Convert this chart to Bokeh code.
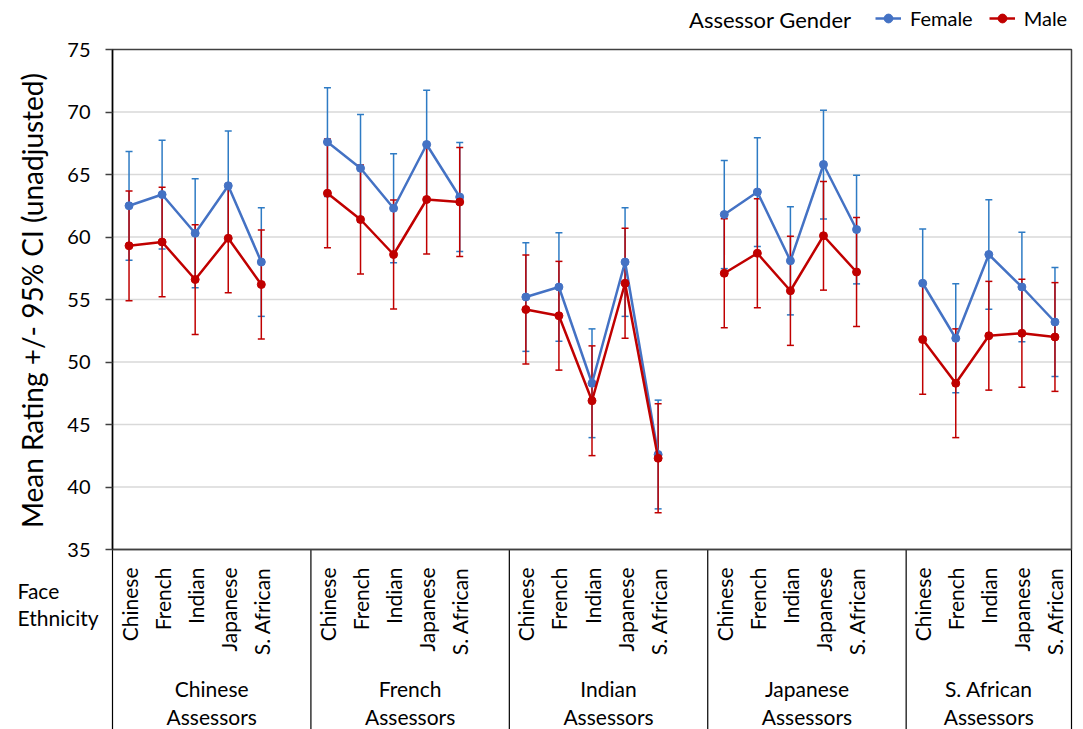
import numpy as np
from bokeh.plotting import figure
from bokeh.models import (ColumnDataSource, Legend, LegendItem, Label, LabelSet,
                          FixedTicker, Range1d, LinearAxis)
from bokeh.core.properties import value
from bokeh.embed import file_html
from bokeh.resources import INLINE

# ---------------- data ----------------
assessor_groups = ["Chinese", "French", "Indian", "Japanese", "S. African"]
face_ethnicities = ["Chinese", "French", "Indian", "Japanese", "S. African"]
y_ticks = [35, 40, 45, 50, 55, 60, 65, 70, 75]

# ordered: assessor group, then face ethnicity
female_mean = [62.5, 63.4, 60.3, 64.1, 58.0,
               67.6, 65.5, 62.3, 67.4, 63.2,
               55.2, 56.0, 48.3, 58.0, 42.6,
               61.8, 63.6, 58.1, 65.8, 60.6,
               56.3, 51.9, 58.6, 56.0, 53.2]
female_ci = [4.35, 4.35, 4.36, 4.38, 4.35,
             4.35, 4.30, 4.36, 4.35, 4.36,
             4.35, 4.34, 4.35, 4.35, 4.35,
             4.33, 4.35, 4.33, 4.35, 4.35,
             4.34, 4.36, 4.38, 4.38, 4.36]
male_mean = [59.3, 59.6, 56.6, 59.9, 56.2,
             63.5, 61.4, 58.6, 63.0, 62.8,
             54.2, 53.7, 46.9, 56.3, 42.3,
             57.1, 58.7, 55.7, 60.1, 57.2,
             51.8, 48.3, 52.1, 52.3, 52.0]
male_ci = [4.39, 4.38, 4.39, 4.35, 4.36,
           4.35, 4.36, 4.36, 4.35, 4.36,
           4.36, 4.35, 4.39, 4.40, 4.36,
           4.36, 4.36, 4.37, 4.35, 4.36,
           4.38, 4.35, 4.35, 4.32, 4.35]

FEMALE_COLOR = "#4472C4"
FEMALE_ERR = "#2E7BC4"
MALE_COLOR = "#C00000"
MALE_ERR = "#C00000"
FONT = "Lato"

# ---------------- geometry ----------------
n_items = len(face_ethnicities)
slot = n_items + 1              # one blank slot between assessor groups
x_end = slot * len(assessor_groups) - 1
xs = [g * slot + j + 0.5 for g in range(len(assessor_groups)) for j in range(n_items)]
y0, y1 = y_ticks[0], y_ticks[-1]

W, H = 1083, 729
PL, PR, PT, PB = 112, 1071, 49, 549     # plotting area in canvas pixels
sx = (PR - PL) / x_end                  # pixels per x unit
sy = (PB - PT) / (y1 - y0)              # pixels per y unit

def dx(px):   # canvas pixel -> data x
    return (px - PL) / sx

def dy(py):   # canvas pixel -> data y
    return y0 + (PB - py) / sy

def broken(vals):
    bx, by = [], []
    for g in range(len(assessor_groups)):
        seg = slice(g * n_items, (g + 1) * n_items)
        bx += xs[seg] + [np.nan]
        by += list(vals[seg]) + [np.nan]
    return bx, by

p = figure(width=W, height=H, output_backend="svg", toolbar_location=None,
           x_range=Range1d(dx(0), dx(W)), y_range=Range1d(dy(H), dy(0)),
           x_axis_location=None, y_axis_location=None,
           min_border=0)
p.background_fill_color = "white"
p.border_fill_color = "white"
p.outline_line_color = None
p.grid.visible = False

# ---------------- axes ----------------
yax = LinearAxis(fixed_location=0, bounds=(y0, y1), ticker=FixedTicker(ticks=y_ticks))
yax.major_label_text_font = FONT
yax.major_label_text_font_size = "20px"
yax.major_label_text_color = "black"
yax.major_label_standoff = 15
yax.major_tick_out = 7
yax.major_tick_in = 0
yax.minor_tick_out = 0
yax.minor_tick_in = 0
yax.axis_line_color = "black"
yax.axis_line_width = 1.5
yax.major_tick_line_color = "#404040"
yax.major_tick_line_width = 1.5
p.add_layout(yax, "left")

xax = LinearAxis(fixed_location=y0, bounds=(0, x_end),
                 ticker=FixedTicker(ticks=xs, minor_ticks=[]))
xax.major_label_overrides = {x: name for x, name in zip(xs, face_ethnicities * len(assessor_groups))}
xax.major_label_orientation = np.pi / 2
xax.major_label_text_font = FONT
xax.major_label_text_font_size = "21px"
xax.major_label_text_color = "black"
xax.major_label_standoff = 18
xax.major_tick_out = 0
xax.major_tick_in = 0
xax.major_tick_line_color = None
xax.minor_tick_out = 0
xax.minor_tick_in = 0
xax.axis_line_color = "#404040"
xax.axis_line_width = 1.5
p.add_layout(xax, "below")

# group separators below the axis
sep_ticks = [g * slot for g in range(len(assessor_groups))] + [x_end]
p.segment(x0=sep_ticks, y0=[y0] * len(sep_ticks), x1=sep_ticks, y1=[dy(H + 5)] * len(sep_ticks),
          line_color="black", line_width=1.2)

# grid lines and plot border
inner = y_ticks[1:-1]
p.segment(x0=[0] * len(inner), y0=inner, x1=[x_end] * len(inner), y1=inner,
          line_color="#D9D9D9", line_width=1.5)
p.quad(left=[0], right=[x_end], bottom=[y0], top=[y1], fill_color=None,
       line_color="#404040", line_width=1.5)

# ---------------- error bars ----------------
def add_errors(mean, ci, color):
    lo = [m - c for m, c in zip(mean, ci)]
    hi = [m + c for m, c in zip(mean, ci)]
    p.segment(x0=xs, y0=lo, x1=xs, y1=hi, line_color=color, line_width=1.5)
    p.scatter(xs + xs, lo + hi, marker="dash", size=7, line_color=color, line_width=1.5)

add_errors(female_mean, female_ci, FEMALE_ERR)
add_errors(male_mean, male_ci, MALE_ERR)

# ---------------- series ----------------
fx, fy = broken(female_mean)
mx, my = broken(male_mean)
lf = p.line(fx, fy, line_color=FEMALE_COLOR, line_width=2.5)
sf = p.scatter(xs, female_mean, size=8, fill_color=FEMALE_COLOR, line_color=FEMALE_COLOR)
lm = p.line(mx, my, line_color=MALE_COLOR, line_width=2.5)
sm = p.scatter(xs, male_mean, size=8, fill_color=MALE_COLOR, line_color=MALE_COLOR)

# ---------------- legend ----------------
legend = Legend(items=[LegendItem(label="Female", renderers=[lf, sf]),
                       LegendItem(label="Male", renderers=[lm, sm])],
                orientation="horizontal", location=(875, H - 30),
                margin=0, padding=0, spacing=16, label_standoff=9,
                glyph_width=26, glyph_height=22,
                label_text_font=FONT, label_text_font_size="20px",
                label_text_color="black", label_height=22,
                border_line_alpha=0, background_fill_alpha=0)
p.add_layout(legend, "center")

p.add_layout(Label(x=dx(851), y=dy(19), text="Assessor Gender",
                   text_align="right", text_baseline="middle",
                   text_font=FONT, text_font_size="22px", text_color="black"))

# ---------------- titles and group labels ----------------
p.add_layout(Label(x=dx(31), y=dy(300), text="Mean Rating +/- 95% CI (unadjusted)",
                   angle=np.pi / 2, text_align="center", text_baseline="middle",
                   text_font=FONT, text_font_size="28px", text_color="black"))

centers = [(a + b) / 2 for a, b in zip(sep_ticks[:-1], sep_ticks[1:])]
grp_src = ColumnDataSource(dict(x=centers + centers,
                                y=[dy(688)] * len(centers) + [dy(716)] * len(centers),
                                text=assessor_groups + ["Assessors"] * len(centers)))
p.add_layout(LabelSet(source=grp_src, x="x", y="y", text="text",
                      text_align="center", text_baseline="middle",
                      text_font=value(FONT), text_font_size="21px", text_color="black"))

for txt, py in [("Face", 590), ("Ethnicity", 617)]:
    p.add_layout(Label(x=dx(17), y=dy(py), text=txt,
                       text_align="left", text_baseline="middle",
                       text_font=FONT, text_font_size="21px", text_color="black"))

open("out.html", "w").write(file_html(p, INLINE))
